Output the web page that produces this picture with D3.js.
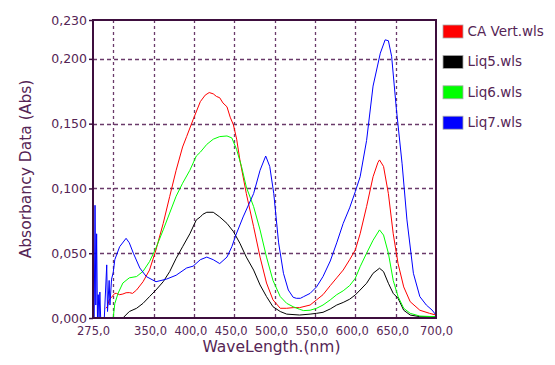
<!DOCTYPE html>
<html>
<head>
<meta charset="utf-8">
<script src="https://cdn.jsdelivr.net/npm/d3@7"></script>
<style>
  body { margin: 0; background: #fff; }
  svg { display: block; font-family: "DejaVu Sans", Verdana, sans-serif; }
</style>
</head>
<body>
<svg id="chart" width="555" height="365"></svg>
<script>
// spectra, [wavelength nm, absorbance]
const caVert = [[291,0.0075],[293,0.009],[295,0.014],[298,0.016],[302,0.019],[304,0.019],[308,0.018],[312,0.0185],[316,0.0195],[320,0.0196],[324,0.019],[329,0.0216],[337,0.028],[345,0.037],[353,0.0525],[362,0.073],[370,0.0937],[378,0.114],[386,0.132],[391,0.14],[399,0.153],[408,0.167],[414,0.172],[419,0.174],[424,0.173],[428,0.171],[432,0.17],[436,0.166],[441,0.163],[445,0.155],[449,0.149],[453,0.138],[457,0.122],[465,0.096],[474,0.0705],[482,0.047],[490,0.027],[498,0.014],[507,0.0075],[515,0.0075],[523,0.008],[531,0.008],[544,0.01],[552,0.014],[560,0.018],[569,0.025],[577,0.031],[585,0.037],[593,0.045],[600,0.0525],[606,0.065],[614,0.086],[622,0.109],[628,0.12],[630,0.122],[635,0.117],[641,0.096],[647,0.065],[653,0.042],[660,0.024],[668,0.0126],[680,0.006],[692,0.0036],[700,0.0023]];
const liq5 = [[275,0],[312,0],[320,0.005],[329,0.0075],[337,0.0113],[345,0.0165],[353,0.0216],[362,0.028],[370,0.0358],[378,0.046],[386,0.055],[395,0.065],[403,0.0757],[408,0.078],[411,0.08],[416,0.0816],[424,0.0816],[432,0.078],[441,0.073],[449,0.0667],[457,0.0577],[465,0.047],[474,0.037],[482,0.0255],[490,0.0165],[498,0.0087],[507,0.005],[515,0.003],[531,0.0023],[544,0.003],[552,0.0036],[560,0.0044],[569,0.007],[577,0.01],[585,0.012],[593,0.0145],[600,0.0178],[606,0.0216],[614,0.0268],[622,0.0345],[630,0.0384],[635,0.0358],[641,0.0268],[647,0.019],[653,0.0152],[660,0.006],[668,0.0023],[680,0.001],[700,0.001]];
const liq6 = [[275,0],[300,0],[302,0.011],[306,0.019],[312,0.027],[320,0.031],[329,0.032],[337,0.036],[345,0.0435],[353,0.054],[362,0.068],[370,0.081],[378,0.094],[386,0.104],[395,0.114],[403,0.125],[408,0.128],[416,0.134],[424,0.138],[432,0.14],[441,0.1405],[447,0.139],[453,0.13],[459,0.117],[465,0.101],[474,0.086],[482,0.068],[490,0.047],[498,0.029],[507,0.0165],[515,0.0113],[523,0.0087],[531,0.0067],[536,0.0057],[544,0.006],[552,0.0075],[560,0.01],[569,0.014],[577,0.018],[585,0.021],[593,0.025],[600,0.0306],[606,0.0396],[614,0.05],[622,0.06],[630,0.068],[635,0.064],[641,0.05],[647,0.029],[653,0.0165],[660,0.0075],[668,0.0036],[680,0.0015],[700,0.001]];
const liq7 = [[275,0],[276.5,0],[277.5,0.087],[278.5,0.01],[279.5,0.065],[280.5,0],[281.5,0.018],[282.5,0],[283.5,0.02],[284.5,0],[289,0],[292,0.041],[293,0.005],[295,0.029],[296,0.01],[298,0.03],[300,0.035],[302,0.045],[308,0.055],[316,0.0615],[320,0.058],[325,0.05],[333,0.0386],[341,0.032],[353,0.028],[366,0.03],[378,0.033],[391,0.0386],[399,0.04],[408,0.045],[416,0.047],[424,0.045],[432,0.042],[441,0.047],[447,0.055],[452,0.064],[461,0.078],[474,0.096],[482,0.114],[489,0.125],[494,0.117],[499,0.096],[505,0.058],[511,0.0345],[517,0.0216],[523,0.016],[527,0.0152],[532,0.0152],[536,0.0165],[544,0.019],[552,0.024],[560,0.032],[569,0.044],[577,0.058],[585,0.073],[593,0.085],[600,0.0975],[606,0.109],[614,0.137],[622,0.179],[631,0.2044],[637,0.2147],[641,0.214],[645,0.202],[651,0.1606],[658,0.119],[664,0.0757],[672,0.0345],[680,0.0165],[688,0.01],[695,0.0062],[700,0.0023]];

const seriesNames = ["CA Vert.wls", "Liq5.wls", "Liq6.wls", "Liq7.wls"];
const seriesColors = ["#ff0000", "#000000", "#00ff00", "#0000ff"];
const seriesData = [caVert, liq5, liq6, liq7];

const xTickLabels = [275, 350, 400, 450, 500, 550, 600, 650, 700];
const xGrid = [300, 350, 400, 450, 500, 550, 600, 650];
const yTicks = [0, 0.05, 0.1, 0.15, 0.2, 0.23];
const yGrid = [0.05, 0.1, 0.15, 0.2];

const svg = d3.select("#chart");
const pLeft = 93, pRight = 436, pTop = 20, pBottom = 318;
const ink = "#3e0e3e", textCol = "#552555", gridCol = "#6a3a6a";

const x = d3.scaleLinear().domain([275, 700]).range([pLeft, pRight]);
const y = d3.scaleLinear().domain([0, 0.23]).range([pBottom, pTop]);
const comma = d => d3.format(".3f")(d).replace(".", ",");

// grid
svg.append("g").selectAll("line").data(xGrid).join("line")
  .attr("x1", d => Math.round(x(d)) + 0.5).attr("x2", d => Math.round(x(d)) + 0.5)
  .attr("y1", pTop).attr("y2", pBottom)
  .attr("stroke", gridCol).attr("stroke-width", 1.3).attr("stroke-dasharray", "3,3");
svg.append("g").selectAll("line").data(yGrid).join("line")
  .attr("x1", pLeft).attr("x2", pRight)
  .attr("y1", d => Math.round(y(d)) + 0.5).attr("y2", d => Math.round(y(d)) + 0.5)
  .attr("stroke", gridCol).attr("stroke-width", 1.3).attr("stroke-dasharray", "4,3");

// curves
svg.append("clipPath").attr("id", "plot").append("rect")
  .attr("x", pLeft).attr("y", pTop).attr("width", pRight - pLeft).attr("height", pBottom - pTop);
const line = d3.line().x(d => x(d[0])).y(d => y(d[1]));
svg.append("g").attr("clip-path", "url(#plot)")
  .selectAll("path").data(seriesData).join("path")
  .attr("d", line)
  .attr("fill", "none")
  .attr("stroke", (d, i) => seriesColors[i])
  .attr("stroke-width", 1)
  .attr("stroke-linejoin", "round");

// frame
svg.append("rect")
  .attr("x", pLeft).attr("y", pTop).attr("width", pRight - pLeft).attr("height", pBottom - pTop)
  .attr("fill", "none").attr("stroke", ink).attr("stroke-width", 2);

// y axis
const yAxis = svg.append("g").attr("transform", `translate(${pLeft},0)`)
  .call(d3.axisLeft(y).tickValues(yTicks).tickFormat(comma).tickSize(4).tickPadding(2));
yAxis.select(".domain").remove();
yAxis.selectAll("line").attr("stroke", ink).attr("stroke-width", 1.5);
yAxis.selectAll("text").attr("fill", textCol).style("font-size", "12.5px")
  .style("font-family", "'DejaVu Sans', sans-serif");

// x axis
const xAxis = svg.append("g").attr("transform", `translate(0,${pBottom})`)
  .call(d3.axisBottom(x).tickValues(xTickLabels).tickFormat(d => d3.format(".1f")(d).replace(".", ","))
    .tickSize(0).tickPadding(9));
xAxis.select(".domain").remove();
xAxis.selectAll("text").attr("fill", textCol).style("font-size", "11.5px")
  .style("font-family", "'DejaVu Sans', sans-serif")
  .attr("dx", d => (d === 275 || d === 700) ? 0 : -3.5);

// titles
svg.append("text").attr("x", (pLeft + pRight) / 2 + 7).attr("y", 352)
  .attr("text-anchor", "middle").attr("fill", textCol).style("font-size", "15.5px")
  .text("WaveLength.(nm)");
svg.append("text").attr("transform", `translate(31,${(pTop + pBottom) / 2}) rotate(-90)`)
  .attr("text-anchor", "middle").attr("fill", textCol).style("font-size", "15.5px")
  .text("Absorbancy Data (Abs)");

// legend
const legend = svg.append("g").selectAll("g").data(seriesNames).join("g")
  .attr("transform", (d, i) => `translate(443,${31.5 + i * 30.4})`);
legend.append("rect")
  .attr("x", 0).attr("y", -6.5).attr("width", 20).attr("height", 13)
  .attr("fill", (d, i) => seriesColors[i]).attr("stroke", "#aaaaaa").attr("stroke-width", 0.8);
legend.append("text")
  .attr("x", 24.5).attr("y", 4.5).attr("fill", textCol).style("font-size", "13.5px")
  .text(d => d);
</script>
</body>
</html>
